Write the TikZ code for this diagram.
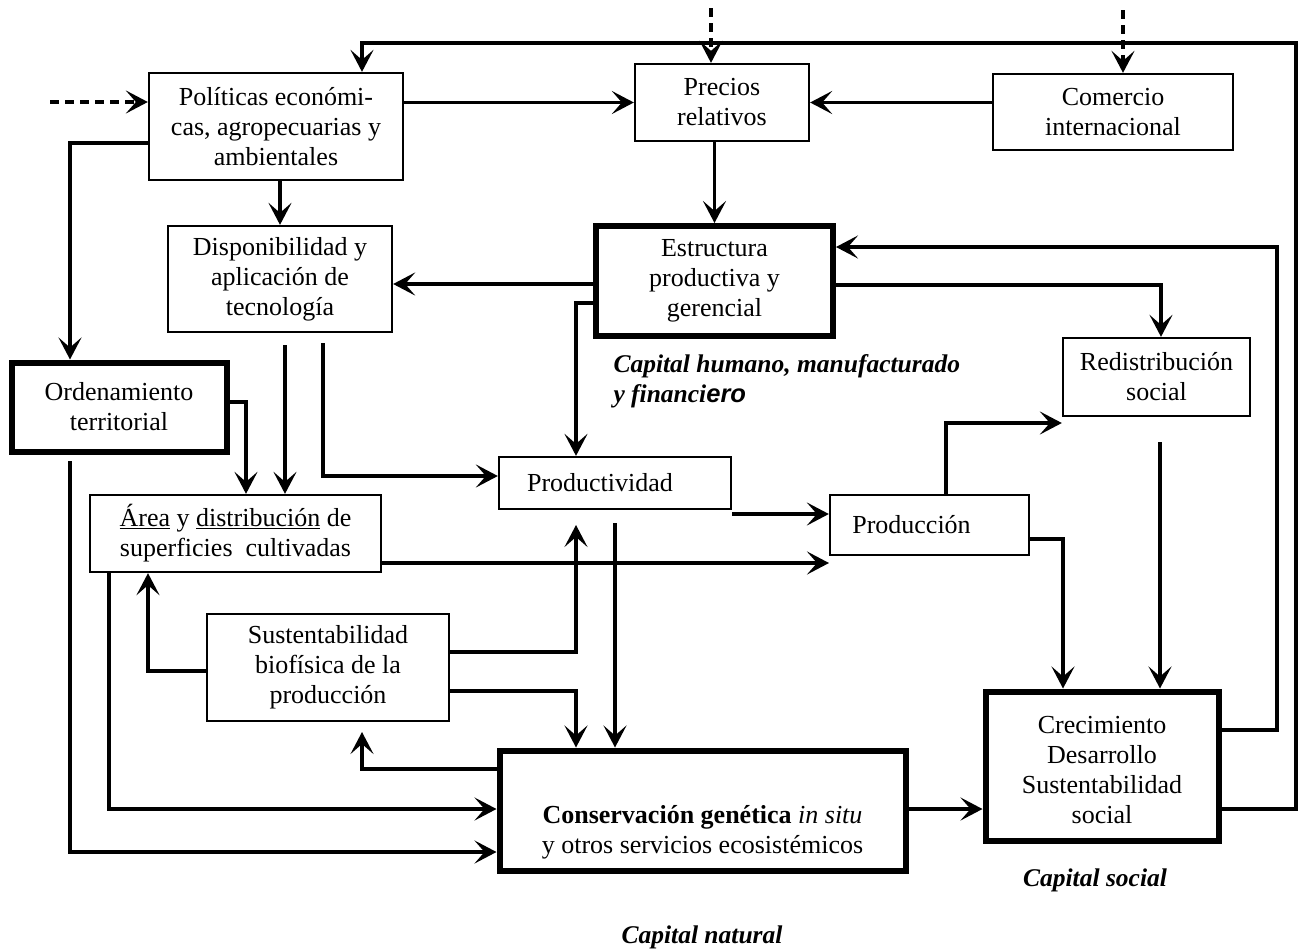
\documentclass[tikz,border=0pt]{standalone}
\usepackage{fontspec}
\setmainfont{Liberation Serif}
\newfontfamily\arialbi{Liberation Sans}
\usetikzlibrary{arrows.meta}
\begin{document}
\begin{tikzpicture}[x=1pt,y=-1pt,
  every node/.style={font=\fontsize{26}{30}\selectfont},
  box/.style={draw,line width=2.3pt,inner sep=0pt,align=center},
  tbox/.style={draw,line width=6pt,inner sep=0pt,align=center},
  conn/.style={line width=3.2pt,-{Stealth[length=22pt,width=23pt,inset=10pt]}},
  dsh/.style={conn,dash pattern=on 9pt off 6pt},
  caplabel/.style={font=\fontsize{25.5}{30}\selectfont\bfseries\itshape,align=left}]
\useasboundingbox (0,0) rectangle (1298,951);

% boxes
\node[box,minimum width=254pt,minimum height=107pt] (pol) at (276,126.5) {Políticas económi-\\cas, agropecuarias y\\ambientales};
\node[box,minimum width=224pt,minimum height=106pt] (disp) at (280,279) {Disponibilidad y\\aplicación de\\tecnología};
\node[box,minimum width=174pt,minimum height=77pt] (prec) at (722,102.5) {Precios\\relativos};
\node[box,minimum width=240pt,minimum height=76pt] (com) at (1113,112) {Comercio\\internacional};
\node[tbox,minimum width=237pt,minimum height=110pt] (est) at (714.5,281) {Estructura\\productiva y\\gerencial};
\node[tbox,minimum width=215pt,minimum height=89pt] (ord) at (119,407) {Ordenamiento\\territorial};
\node[box,minimum width=291pt,minimum height=77pt] (area) at (235.5,533.5) {\underline{Área} y \underline{distribución} de\\superficies\ \ cultivadas};
\node[box,minimum width=242pt,minimum height=107pt] (sust) at (328,667.5) {Sustentabilidad\\biofísica de la\\producción};
\node[box,minimum width=232pt,minimum height=52pt,label={[xshift=-15pt]center:Productividad}] (prod) at (615,483) {};
\node[box,minimum width=199pt,minimum height=60pt,label={[xshift=-18pt]center:Producción}] (proc) at (929.5,525) {};
\node[box,minimum width=187pt,minimum height=78pt] (red) at (1156.5,377) {Redistribución\\social};
\node[tbox,minimum width=233pt,minimum height=149pt,
  label={[yshift=-4pt,align=center]center:{Crecimiento\\Desarrollo\\Sustentabilidad\\social}}] (crec) at (1102,766) {};
\node[tbox,minimum width=406pt,minimum height=120pt,
  label={[yshift=-22pt,align=center]center:{\textbf{Conservación genética} \textit{in situ}\\y otros servicios ecosistémicos}}] (cons) at (702.5,810.5) {};

% labels
\node[caplabel,anchor=west] (kh) at (610,381) {Capital humano, manufacturado\\y financi{\arialbi\bfseries\itshape ero}};
\node[caplabel] (ks) at (1095,880) {Capital social};
\node[caplabel] (kn) at (702,937) {Capital natural};

% coordinates
\coordinate (dA) at (50,102);
\coordinate (dB) at (711,8);
\coordinate (dC) at (1123,10);
\coordinate (f1) at (1296,809);
\coordinate (f2) at (1296,43);
\coordinate (f3) at (362,43);
\coordinate (g1) at (70,143);
\coordinate (e1) at (500,284);
\coordinate (k1) at (1277,730);
\coordinate (k2) at (1277,247);
\coordinate (m1) at (1161,285);
\coordinate (n1) at (576,303);
\coordinate (p1) at (285,345);
\coordinate (q1) at (323,343);
\coordinate (q2) at (323,476);
\coordinate (r1) at (246,402);
\coordinate (s1) at (70,461);
\coordinate (s2) at (70,852);
\coordinate (t1) at (109,809);
\coordinate (u1) at (829,563);
\coordinate (v1) at (148,671);
\coordinate (w1) at (576,652);
\coordinate (w2) at (576,525);
\coordinate (x1) at (576,691);
\coordinate (y1) at (615,523);
\coordinate (z1) at (362,769);
\coordinate (z2) at (362,732);
\coordinate (a1) at (732,514);
\coordinate (b1) at (946,423);
\coordinate (b2) at (1063,539);
\coordinate (b3) at (1160,442);
\coordinate (b4) at (940,809);

% connectors
\draw[dsh] (dA) -- (dA -| pol.west);
\draw[dsh] (dB) -- (dB |- prec.north);
\draw[dsh] (dC) -- (dC |- com.north);
\draw[conn] (f1 -| crec.east) -- (f1) -- (f2) -- (f3) -- (f3 |- pol.north);
\draw[conn] (prec.west -| pol.east) -- (prec.west);
\draw[conn] (prec.east -| com.west) -- (prec.east);
\draw[conn] (est.north |- prec.south) -- (est.north);
\draw[conn] (disp.north |- pol.south) -- (disp.north);
\draw[conn] (g1 -| pol.west) -- (g1) -- (g1 |- ord.north);
\draw[conn] (e1 -| est.west) -- (e1 -| disp.east);
\draw[conn] (k1 -| crec.east) -- (k1) -- (k2) -- (k2 -| est.east);
\draw[conn] (m1 -| est.east) -- (m1) -- (m1 |- red.north);
\draw[conn] (n1 -| est.west) -- (n1) -- (n1 |- prod.north);
\draw[conn] (p1) -- (p1 |- area.north);
\draw[conn] (q1) -- (q2) -- (q2 -| prod.west);
\draw[conn] (r1 -| ord.east) -- (r1) -- (r1 |- area.north);
\draw[conn] (s1) -- (s2) -- (s2 -| cons.west);
\draw[conn] (t1 |- area.south) -- (t1) -- (t1 -| cons.west);
\draw[conn] (u1 -| area.east) -- (u1);
\draw[conn] (v1 -| sust.west) -- (v1) -- (v1 |- area.south);
\draw[conn] (w1 -| sust.east) -- (w1) -- (w2);
\draw[conn] (x1 -| sust.east) -- (x1) -- (x1 |- cons.north);
\draw[conn] (y1) -- (y1 |- cons.north);
\draw[conn] (z1 -| cons.west) -- (z1) -- (z2);
\draw[conn] (a1 -| prod.east) -- (a1 -| proc.west);
\draw[conn] (b1 |- proc.north) -- (b1) -- (b1 -| red.west);
\draw[conn] (b2 -| proc.east) -- (b2) -- (b2 |- crec.north);
\draw[conn] (b3) -- (b3 |- crec.north);
\draw[conn] (b4 -| cons.east) -- (b4 -| crec.west);
\end{tikzpicture}
\end{document}
